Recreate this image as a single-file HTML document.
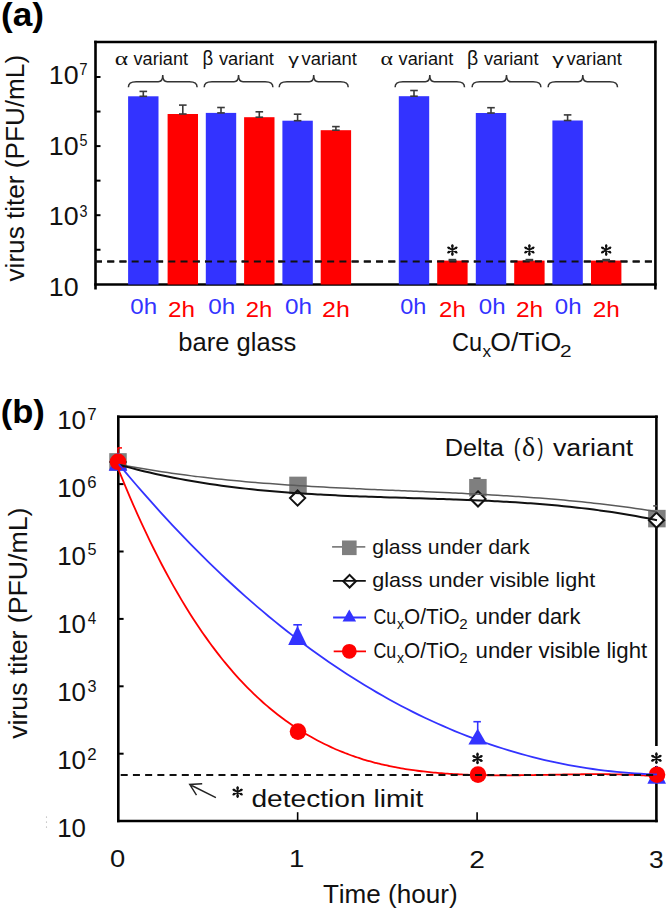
<!DOCTYPE html>
<html><head><meta charset="utf-8"><style>
html,body{margin:0;padding:0;background:#fff;width:668px;height:911px;overflow:hidden}
svg{display:block}
text{font-family:"Liberation Sans",sans-serif;font-kerning:none}
</style></head><body>
<svg width="668" height="911" viewBox="0 0 668 911">
<rect width="668" height="911" fill="#fff"/>
<text x="0.95" y="25.70" font-size="33.7" fill="#000" textLength="43.01" lengthAdjust="spacingAndGlyphs" font-weight="bold" >(a)</text>
<line x1="94.2" y1="42" x2="656.7" y2="42" stroke="#000" stroke-width="2.6" />
<line x1="95.5" y1="40.7" x2="95.5" y2="289.5" stroke="#000" stroke-width="2.6" />
<line x1="94.2" y1="284.5" x2="656.7" y2="284.5" stroke="#000" stroke-width="2.6" />
<line x1="655.4" y1="40.7" x2="655.4" y2="289.5" stroke="#000" stroke-width="2.6" />
<line x1="95.5" y1="77.0" x2="100.5" y2="77.0" stroke="#000" stroke-width="2" />
<line x1="95.5" y1="111.55" x2="100.5" y2="111.55" stroke="#000" stroke-width="2" />
<line x1="95.5" y1="146.1" x2="100.5" y2="146.1" stroke="#000" stroke-width="2" />
<line x1="95.5" y1="180.64999999999998" x2="100.5" y2="180.64999999999998" stroke="#000" stroke-width="2" />
<line x1="95.5" y1="215.2" x2="100.5" y2="215.2" stroke="#000" stroke-width="2" />
<line x1="95.5" y1="249.75" x2="100.5" y2="249.75" stroke="#000" stroke-width="2" />
<text x="48.76" y="83.80" font-size="26.5" fill="#111" textLength="29.79" lengthAdjust="spacingAndGlyphs" >10</text>
<text x="79.23" y="74.90" font-size="16.5" fill="#111" textLength="8.32" lengthAdjust="spacingAndGlyphs" >7</text>
<text x="48.76" y="154.70" font-size="26.5" fill="#111" textLength="29.79" lengthAdjust="spacingAndGlyphs" >10</text>
<text x="79.43" y="146.00" font-size="16.5" fill="#111" textLength="7.98" lengthAdjust="spacingAndGlyphs" >5</text>
<text x="48.76" y="225.40" font-size="26.5" fill="#111" textLength="29.79" lengthAdjust="spacingAndGlyphs" >10</text>
<text x="79.45" y="216.50" font-size="16.5" fill="#111" textLength="7.98" lengthAdjust="spacingAndGlyphs" >3</text>
<text x="48.76" y="296.20" font-size="26.5" fill="#111" textLength="29.79" lengthAdjust="spacingAndGlyphs" >10</text>
<text transform="rotate(-90)" x="-281.49" y="23.60" font-size="25.2" fill="#111" textLength="226.61" lengthAdjust="spacingAndGlyphs">virus titer (PFU/mL)</text>
<line x1="95" y1="261.4" x2="654" y2="261.4" stroke="#111" stroke-width="2" stroke-dasharray="7 5.22"/>
<rect x="128.10" y="96.3" width="30.4" height="188.20" fill="#3333ff"/>
<rect x="167.60" y="114.0" width="30.4" height="170.50" fill="#ff0000"/>
<rect x="205.80" y="112.9" width="30.4" height="171.60" fill="#3333ff"/>
<rect x="244.10" y="117.2" width="30.4" height="167.30" fill="#ff0000"/>
<rect x="282.40" y="120.7" width="30.4" height="163.80" fill="#3333ff"/>
<rect x="320.70" y="130.2" width="30.4" height="154.30" fill="#ff0000"/>
<rect x="398.80" y="96.2" width="30.4" height="188.30" fill="#3333ff"/>
<rect x="437.20" y="260.6" width="30.4" height="23.90" fill="#ff0000"/>
<rect x="475.80" y="113.0" width="30.4" height="171.50" fill="#3333ff"/>
<rect x="514.20" y="260.6" width="30.4" height="23.90" fill="#ff0000"/>
<rect x="552.40" y="120.5" width="30.4" height="164.00" fill="#3333ff"/>
<rect x="591.00" y="260.6" width="30.4" height="23.90" fill="#ff0000"/>
<line x1="95" y1="261.4" x2="654" y2="261.4" stroke="#111" stroke-width="2" stroke-dasharray="7 5.22"/>
<line x1="143.30" y1="91.4" x2="143.30" y2="96.3" stroke="#3a3a3a" stroke-width="1.6" />
<line x1="139.50" y1="91.4" x2="147.10" y2="91.4" stroke="#3a3a3a" stroke-width="1.6" />
<line x1="139.50" y1="96.3" x2="147.10" y2="96.3" stroke="#3a3a3a" stroke-width="1.6" />
<line x1="182.80" y1="105.1" x2="182.80" y2="114.0" stroke="#3a3a3a" stroke-width="1.6" />
<line x1="179.00" y1="105.1" x2="186.60" y2="105.1" stroke="#3a3a3a" stroke-width="1.6" />
<line x1="179.00" y1="114.0" x2="186.60" y2="114.0" stroke="#3a3a3a" stroke-width="1.6" />
<line x1="221.00" y1="107.5" x2="221.00" y2="112.9" stroke="#3a3a3a" stroke-width="1.6" />
<line x1="217.20" y1="107.5" x2="224.80" y2="107.5" stroke="#3a3a3a" stroke-width="1.6" />
<line x1="217.20" y1="112.9" x2="224.80" y2="112.9" stroke="#3a3a3a" stroke-width="1.6" />
<line x1="259.30" y1="111.8" x2="259.30" y2="117.2" stroke="#3a3a3a" stroke-width="1.6" />
<line x1="255.50" y1="111.8" x2="263.10" y2="111.8" stroke="#3a3a3a" stroke-width="1.6" />
<line x1="255.50" y1="117.2" x2="263.10" y2="117.2" stroke="#3a3a3a" stroke-width="1.6" />
<line x1="297.60" y1="114.2" x2="297.60" y2="120.7" stroke="#3a3a3a" stroke-width="1.6" />
<line x1="293.80" y1="114.2" x2="301.40" y2="114.2" stroke="#3a3a3a" stroke-width="1.6" />
<line x1="293.80" y1="120.7" x2="301.40" y2="120.7" stroke="#3a3a3a" stroke-width="1.6" />
<line x1="335.90" y1="126.6" x2="335.90" y2="130.2" stroke="#3a3a3a" stroke-width="1.6" />
<line x1="332.10" y1="126.6" x2="339.70" y2="126.6" stroke="#3a3a3a" stroke-width="1.6" />
<line x1="332.10" y1="130.2" x2="339.70" y2="130.2" stroke="#3a3a3a" stroke-width="1.6" />
<line x1="414.00" y1="90.5" x2="414.00" y2="96.2" stroke="#3a3a3a" stroke-width="1.6" />
<line x1="410.20" y1="90.5" x2="417.80" y2="90.5" stroke="#3a3a3a" stroke-width="1.6" />
<line x1="410.20" y1="96.2" x2="417.80" y2="96.2" stroke="#3a3a3a" stroke-width="1.6" />
<line x1="452.40" y1="259.6" x2="452.40" y2="260.6" stroke="#3a3a3a" stroke-width="1.6" />
<line x1="448.60" y1="259.6" x2="456.20" y2="259.6" stroke="#3a3a3a" stroke-width="1.6" />
<line x1="448.60" y1="260.6" x2="456.20" y2="260.6" stroke="#3a3a3a" stroke-width="1.6" />
<line x1="491.00" y1="107.7" x2="491.00" y2="113.0" stroke="#3a3a3a" stroke-width="1.6" />
<line x1="487.20" y1="107.7" x2="494.80" y2="107.7" stroke="#3a3a3a" stroke-width="1.6" />
<line x1="487.20" y1="113.0" x2="494.80" y2="113.0" stroke="#3a3a3a" stroke-width="1.6" />
<line x1="529.40" y1="259.6" x2="529.40" y2="260.6" stroke="#3a3a3a" stroke-width="1.6" />
<line x1="525.60" y1="259.6" x2="533.20" y2="259.6" stroke="#3a3a3a" stroke-width="1.6" />
<line x1="525.60" y1="260.6" x2="533.20" y2="260.6" stroke="#3a3a3a" stroke-width="1.6" />
<line x1="567.60" y1="114.9" x2="567.60" y2="120.5" stroke="#3a3a3a" stroke-width="1.6" />
<line x1="563.80" y1="114.9" x2="571.40" y2="114.9" stroke="#3a3a3a" stroke-width="1.6" />
<line x1="563.80" y1="120.5" x2="571.40" y2="120.5" stroke="#3a3a3a" stroke-width="1.6" />
<line x1="606.20" y1="259.6" x2="606.20" y2="260.6" stroke="#3a3a3a" stroke-width="1.6" />
<line x1="602.40" y1="259.6" x2="610.00" y2="259.6" stroke="#3a3a3a" stroke-width="1.6" />
<line x1="602.40" y1="260.6" x2="610.00" y2="260.6" stroke="#3a3a3a" stroke-width="1.6" />
<path d="M128.40,87.2 C128.40,83.3 130.40,81.8 136.20,81.8 L158.25,81.8 C161.25,81.8 162.75,79.8 162.75,75.1 C162.75,79.8 164.25,81.8 167.25,81.8 L189.30,81.8 C195.10,81.8 197.10,83.3 197.10,87.2" fill="none" stroke="#333" stroke-width="1.5"/>
<path d="M204.20,87.2 C204.20,83.3 206.20,81.8 212.00,81.8 L234.05,81.8 C237.05,81.8 238.55,79.8 238.55,75.1 C238.55,79.8 240.05,81.8 243.05,81.8 L265.10,81.8 C270.90,81.8 272.90,83.3 272.90,87.2" fill="none" stroke="#333" stroke-width="1.5"/>
<path d="M279.20,87.2 C279.20,83.3 281.20,81.8 287.00,81.8 L309.20,81.8 C312.20,81.8 313.70,79.8 313.70,75.1 C313.70,79.8 315.20,81.8 318.20,81.8 L340.40,81.8 C346.20,81.8 348.20,83.3 348.20,87.2" fill="none" stroke="#333" stroke-width="1.5"/>
<path d="M395.10,87.2 C395.10,83.3 397.10,81.8 402.90,81.8 L425.30,81.8 C428.30,81.8 429.80,79.8 429.80,75.1 C429.80,79.8 431.30,81.8 434.30,81.8 L456.70,81.8 C462.50,81.8 464.50,83.3 464.50,87.2" fill="none" stroke="#333" stroke-width="1.5"/>
<path d="M472.10,87.2 C472.10,83.3 474.10,81.8 479.90,81.8 L502.00,81.8 C505.00,81.8 506.50,79.8 506.50,75.1 C506.50,79.8 508.00,81.8 511.00,81.8 L533.10,81.8 C538.90,81.8 540.90,83.3 540.90,87.2" fill="none" stroke="#333" stroke-width="1.5"/>
<path d="M548.10,87.2 C548.10,83.3 550.10,81.8 555.90,81.8 L578.30,81.8 C581.30,81.8 582.80,79.8 582.80,75.1 C582.80,79.8 584.30,81.8 587.30,81.8 L609.70,81.8 C615.50,81.8 617.50,83.3 617.50,87.2" fill="none" stroke="#333" stroke-width="1.5"/>
<text x="114.73" y="64.50" font-size="19.5" fill="#111" textLength="13.34" lengthAdjust="spacingAndGlyphs" style="font-family:Liberation Serif" >α</text>
<text x="133.54" y="64.60" font-size="18.3" fill="#111" textLength="54.50" lengthAdjust="spacingAndGlyphs" >variant</text>
<text x="202.51" y="64.50" font-size="19.5" fill="#111" textLength="10.73" lengthAdjust="spacingAndGlyphs" >β</text>
<text x="218.94" y="64.60" font-size="18.3" fill="#111" textLength="55.00" lengthAdjust="spacingAndGlyphs" >variant</text>
<text x="288.33" y="64.50" font-size="16.9" fill="#111" textLength="10.65" lengthAdjust="spacingAndGlyphs" >γ</text>
<text x="301.54" y="64.60" font-size="18.3" fill="#111" textLength="55.40" lengthAdjust="spacingAndGlyphs" >variant</text>
<text x="380.60" y="64.50" font-size="19.5" fill="#111" textLength="12.44" lengthAdjust="spacingAndGlyphs" style="font-family:Liberation Serif" >α</text>
<text x="398.54" y="64.60" font-size="18.3" fill="#111" textLength="54.70" lengthAdjust="spacingAndGlyphs" >variant</text>
<text x="467.05" y="64.50" font-size="19.5" fill="#111" textLength="11.22" lengthAdjust="spacingAndGlyphs" >β</text>
<text x="483.94" y="64.60" font-size="18.3" fill="#111" textLength="54.60" lengthAdjust="spacingAndGlyphs" >variant</text>
<text x="552.32" y="64.50" font-size="16.9" fill="#111" textLength="11.66" lengthAdjust="spacingAndGlyphs" >γ</text>
<text x="566.54" y="64.60" font-size="18.3" fill="#111" textLength="55.40" lengthAdjust="spacingAndGlyphs" >variant</text>
<path d="M452.40,254.90 L452.40,245.10 M448.16,252.45 L456.64,247.55 M448.16,247.55 L456.64,252.45 " stroke="#111" stroke-width="1.9" stroke-linecap="round" fill="none"/>
<circle cx="452.40" cy="246.00" r="1.25" fill="#111"/>
<circle cx="448.94" cy="248.00" r="1.25" fill="#111"/>
<circle cx="448.94" cy="252.00" r="1.25" fill="#111"/>
<circle cx="452.40" cy="254.00" r="1.25" fill="#111"/>
<circle cx="455.86" cy="252.00" r="1.25" fill="#111"/>
<circle cx="455.86" cy="248.00" r="1.25" fill="#111"/>
<path d="M529.40,254.90 L529.40,245.10 M525.16,252.45 L533.64,247.55 M525.16,247.55 L533.64,252.45 " stroke="#111" stroke-width="1.9" stroke-linecap="round" fill="none"/>
<circle cx="529.40" cy="246.00" r="1.25" fill="#111"/>
<circle cx="525.94" cy="248.00" r="1.25" fill="#111"/>
<circle cx="525.94" cy="252.00" r="1.25" fill="#111"/>
<circle cx="529.40" cy="254.00" r="1.25" fill="#111"/>
<circle cx="532.86" cy="252.00" r="1.25" fill="#111"/>
<circle cx="532.86" cy="248.00" r="1.25" fill="#111"/>
<path d="M606.20,254.90 L606.20,245.10 M601.96,252.45 L610.44,247.55 M601.96,247.55 L610.44,252.45 " stroke="#111" stroke-width="1.9" stroke-linecap="round" fill="none"/>
<circle cx="606.20" cy="246.00" r="1.25" fill="#111"/>
<circle cx="602.74" cy="248.00" r="1.25" fill="#111"/>
<circle cx="602.74" cy="252.00" r="1.25" fill="#111"/>
<circle cx="606.20" cy="254.00" r="1.25" fill="#111"/>
<circle cx="609.66" cy="252.00" r="1.25" fill="#111"/>
<circle cx="609.66" cy="248.00" r="1.25" fill="#111"/>
<text x="130.26" y="313.50" font-size="22" fill="#3333ff" textLength="26.81" lengthAdjust="spacingAndGlyphs" >0h</text>
<text x="168.08" y="316.90" font-size="22" fill="#ff0000" textLength="27.00" lengthAdjust="spacingAndGlyphs" >2h</text>
<text x="208.35" y="313.50" font-size="22" fill="#3333ff" textLength="27.03" lengthAdjust="spacingAndGlyphs" >0h</text>
<text x="245.80" y="316.90" font-size="22" fill="#ff0000" textLength="26.55" lengthAdjust="spacingAndGlyphs" >2h</text>
<text x="285.05" y="313.50" font-size="22" fill="#3333ff" textLength="27.03" lengthAdjust="spacingAndGlyphs" >0h</text>
<text x="322.04" y="316.90" font-size="22" fill="#ff0000" textLength="27.78" lengthAdjust="spacingAndGlyphs" >2h</text>
<text x="400.28" y="313.50" font-size="22" fill="#3333ff" textLength="26.14" lengthAdjust="spacingAndGlyphs" >0h</text>
<text x="439.09" y="316.90" font-size="22" fill="#ff0000" textLength="26.66" lengthAdjust="spacingAndGlyphs" >2h</text>
<text x="478.86" y="313.50" font-size="22" fill="#3333ff" textLength="26.81" lengthAdjust="spacingAndGlyphs" >0h</text>
<text x="515.97" y="316.90" font-size="22" fill="#ff0000" textLength="27.22" lengthAdjust="spacingAndGlyphs" >2h</text>
<text x="554.86" y="313.50" font-size="22" fill="#3333ff" textLength="26.81" lengthAdjust="spacingAndGlyphs" >0h</text>
<text x="592.77" y="316.90" font-size="22" fill="#ff0000" textLength="27.11" lengthAdjust="spacingAndGlyphs" >2h</text>
<text x="178.35" y="350.90" font-size="25" fill="#111" textLength="117.87" lengthAdjust="spacingAndGlyphs" >bare glass</text>
<text x="452.01" y="351.20" font-size="26" fill="#111" textLength="30.06" lengthAdjust="spacingAndGlyphs" >Cu</text>
<text x="482.41" y="356.70" font-size="16" fill="#111" textLength="8.58" lengthAdjust="spacingAndGlyphs" >x</text>
<text x="490.24" y="351.20" font-size="26" fill="#111" textLength="70.83" lengthAdjust="spacingAndGlyphs" >O/TiO</text>
<text x="559.95" y="356.70" font-size="16" fill="#111" textLength="11.60" lengthAdjust="spacingAndGlyphs" >2</text>
<text x="0.68" y="423.30" font-size="33.7" fill="#000" textLength="44.14" lengthAdjust="spacingAndGlyphs" font-weight="bold" >(b)</text>
<line x1="117" y1="416.7" x2="657.8" y2="416.7" stroke="#000" stroke-width="2.6" />
<line x1="118.3" y1="415.4" x2="118.3" y2="822.3" stroke="#000" stroke-width="2.6" />
<line x1="117" y1="821" x2="657.8" y2="821" stroke="#000" stroke-width="2.6" />
<line x1="656.4" y1="415.4" x2="656.4" y2="822.3" stroke="#000" stroke-width="2.6" />
<line x1="118.3" y1="484.10" x2="123.6" y2="484.10" stroke="#000" stroke-width="2" />
<line x1="118.3" y1="551.50" x2="123.6" y2="551.50" stroke="#000" stroke-width="2" />
<line x1="118.3" y1="618.90" x2="123.6" y2="618.90" stroke="#000" stroke-width="2" />
<line x1="118.3" y1="686.30" x2="123.6" y2="686.30" stroke="#000" stroke-width="2" />
<line x1="118.3" y1="753.70" x2="123.6" y2="753.70" stroke="#000" stroke-width="2" />
<line x1="297.65" y1="812.2" x2="297.65" y2="821" stroke="#000" stroke-width="1.6" />
<line x1="477.10" y1="812.2" x2="477.10" y2="821" stroke="#000" stroke-width="1.6" />
<text x="57.23" y="429.10" font-size="26" fill="#111" textLength="28.78" lengthAdjust="spacingAndGlyphs" >10</text>
<text x="87.33" y="420.30" font-size="17" fill="#111" textLength="9.42" lengthAdjust="spacingAndGlyphs" >7</text>
<text x="57.23" y="497.10" font-size="26" fill="#111" textLength="28.78" lengthAdjust="spacingAndGlyphs" >10</text>
<text x="87.35" y="487.80" font-size="17" fill="#111" textLength="9.28" lengthAdjust="spacingAndGlyphs" >6</text>
<text x="57.23" y="565.00" font-size="26" fill="#111" textLength="28.78" lengthAdjust="spacingAndGlyphs" >10</text>
<text x="87.55" y="555.40" font-size="17" fill="#111" textLength="9.03" lengthAdjust="spacingAndGlyphs" >5</text>
<text x="57.23" y="632.70" font-size="26" fill="#111" textLength="28.78" lengthAdjust="spacingAndGlyphs" >10</text>
<text x="87.85" y="623.50" font-size="17" fill="#111" textLength="8.50" lengthAdjust="spacingAndGlyphs" >4</text>
<text x="57.23" y="701.00" font-size="26" fill="#111" textLength="28.78" lengthAdjust="spacingAndGlyphs" >10</text>
<text x="87.58" y="692.30" font-size="17" fill="#111" textLength="9.03" lengthAdjust="spacingAndGlyphs" >3</text>
<text x="57.23" y="768.90" font-size="26" fill="#111" textLength="28.78" lengthAdjust="spacingAndGlyphs" >10</text>
<text x="87.35" y="760.00" font-size="17" fill="#111" textLength="9.40" lengthAdjust="spacingAndGlyphs" >2</text>
<text x="57.23" y="836.60" font-size="26" fill="#111" textLength="28.78" lengthAdjust="spacingAndGlyphs" >10</text>
<text transform="rotate(-90)" x="-738.89" y="26.60" font-size="26.5" fill="#111" textLength="231.35" lengthAdjust="spacingAndGlyphs">virus titer (PFU/mL)</text>
<text x="109.93" y="867.20" font-size="24.5" fill="#111" textLength="15.24" lengthAdjust="spacingAndGlyphs" >0</text>
<text x="289.10" y="867.40" font-size="24.5" fill="#111" textLength="15.35" lengthAdjust="spacingAndGlyphs" >1</text>
<text x="469.29" y="868.30" font-size="24.5" fill="#111" textLength="15.63" lengthAdjust="spacingAndGlyphs" >2</text>
<text x="649.00" y="868.30" font-size="24.5" fill="#111" textLength="14.66" lengthAdjust="spacingAndGlyphs" >3</text>
<text x="322.91" y="903.10" font-size="26" fill="#111" textLength="134.70" lengthAdjust="spacingAndGlyphs" >Time (hour)</text>
<text x="444.72" y="456.00" font-size="24.7" fill="#111" textLength="59.18" lengthAdjust="spacingAndGlyphs" >Delta</text>
<text x="513.86" y="456.00" font-size="24.7" fill="#111" textLength="6.66" lengthAdjust="spacingAndGlyphs" >(</text>
<text x="521.96" y="456.00" font-size="27" fill="#111" textLength="13.09" lengthAdjust="spacingAndGlyphs" style="font-family:Liberation Serif" >δ</text>
<text x="537.60" y="456.00" font-size="24.7" fill="#111" textLength="5.90" lengthAdjust="spacingAndGlyphs" >)</text>
<text x="552.91" y="456.00" font-size="24.7" fill="#111" textLength="80.29" lengthAdjust="spacingAndGlyphs" >variant</text>
<rect x="109.25" y="453.15" width="17.5" height="17.5" fill="#7f7f7f"/>
<path d="M118,454.4 L125.6,462 L118,469.6 L110.4,462 Z" fill="#fff" stroke="#111" stroke-width="2"/>
<path d="M118,452 L127.3,470.8 L108.7,470.8 Z" fill="#3333ff"/>
<circle cx="118" cy="461.8" r="8.3" fill="#ff0000"/>
<line x1="117.5" y1="447.9" x2="122" y2="447.9" stroke="#ff0000" stroke-width="1.5" />
<line x1="118" y1="447.9" x2="118" y2="453" stroke="#ff0000" stroke-width="1.5" />
<rect x="289.25" y="476.65" width="17.5" height="17.5" fill="#7f7f7f"/>
<path d="M297.6,490.5 L305.20000000000005,498.1 L297.6,505.70000000000005 L290.0,498.1 Z" fill="#fff" stroke="#111" stroke-width="2"/>
<line x1="297.6" y1="624.8" x2="297.6" y2="630" stroke="#3333ff" stroke-width="1.6" />
<line x1="293.3" y1="624.8" x2="301.9" y2="624.8" stroke="#3333ff" stroke-width="1.6" />
<path d="M297.5,625.7 L306.8,644.9 L288.2,644.9 Z" fill="#3333ff"/>
<circle cx="298" cy="731.6" r="8.3" fill="#ff0000"/>
<line x1="473.3" y1="478.2" x2="480.7" y2="478.2" stroke="#555" stroke-width="1.6" />
<line x1="477" y1="478.2" x2="477" y2="482" stroke="#555" stroke-width="1.6" />
<rect x="469.15" y="478.95" width="17.5" height="17.5" fill="#7f7f7f"/>
<path d="M478,491.29999999999995 L485.6,498.9 L478,506.5 L470.4,498.9 Z" fill="#fff" stroke="#111" stroke-width="2"/>
<line x1="477.7" y1="721.7" x2="477.7" y2="730" stroke="#3333ff" stroke-width="1.6" />
<line x1="473.4" y1="721.7" x2="480.9" y2="721.7" stroke="#3333ff" stroke-width="1.6" />
<path d="M477.7,728.4 L487.0,744.6 L468.4,744.6 Z" fill="#3333ff"/>
<circle cx="478" cy="774.6" r="8.3" fill="#ff0000"/>
<line x1="653.2" y1="505.9" x2="657" y2="505.9" stroke="#555" stroke-width="1.6" />
<rect x="648.15" y="509.85" width="17.5" height="17.5" fill="#7f7f7f"/>
<path d="M656.5,512.6 L664.1,520.2 L656.5,527.8000000000001 L648.9,520.2 Z" fill="#fff" stroke="#111" stroke-width="2"/>
<rect x="652" y="746" width="10" height="20" fill="#fff"/>
<path d="M656.7,765.2 L666.0,783.7 L647.4000000000001,783.7 Z" fill="#3333ff"/>
<circle cx="657" cy="774.7" r="8.3" fill="#ff0000"/>
<path d="M119.70,464.49 C120.70,464.68 123.70,465.26 125.70,465.63 C127.70,466.00 129.70,466.37 131.70,466.73 C133.70,467.10 135.70,467.45 137.70,467.80 C139.70,468.15 141.70,468.49 143.70,468.83 C145.70,469.17 147.70,469.50 149.70,469.83 C151.70,470.15 153.70,470.47 155.70,470.79 C157.70,471.10 159.70,471.41 161.70,471.72 C163.70,472.02 165.70,472.32 167.70,472.61 C169.70,472.91 171.70,473.19 173.70,473.48 C175.70,473.76 177.70,474.04 179.70,474.31 C181.70,474.58 183.70,474.85 185.70,475.11 C187.70,475.37 189.70,475.63 191.70,475.88 C193.70,476.14 195.70,476.38 197.70,476.63 C199.70,476.87 201.70,477.11 203.70,477.34 C205.70,477.58 207.70,477.81 209.70,478.03 C211.70,478.26 213.70,478.48 215.70,478.70 C217.70,478.91 219.70,479.13 221.70,479.33 C223.70,479.54 225.70,479.75 227.70,479.95 C229.70,480.15 231.70,480.34 233.70,480.54 C235.70,480.73 237.70,480.92 239.70,481.10 C241.70,481.29 243.70,481.47 245.70,481.65 C247.70,481.82 249.70,482.00 251.70,482.17 C253.70,482.34 255.70,482.51 257.70,482.67 C259.70,482.84 261.70,483.00 263.70,483.15 C265.70,483.31 267.70,483.47 269.70,483.62 C271.70,483.77 273.70,483.92 275.70,484.06 C277.70,484.21 279.70,484.35 281.70,484.49 C283.70,484.63 285.70,484.77 287.70,484.90 C289.70,485.04 291.70,485.17 293.70,485.30 C295.70,485.43 297.70,485.56 299.70,485.68 C301.70,485.81 303.70,485.93 305.70,486.05 C307.70,486.17 309.70,486.29 311.70,486.40 C313.70,486.52 315.70,486.63 317.70,486.74 C319.70,486.86 321.70,486.97 323.70,487.07 C325.70,487.18 327.70,487.29 329.70,487.39 C331.70,487.50 333.70,487.60 335.70,487.70 C337.70,487.81 339.70,487.91 341.70,488.00 C343.70,488.10 345.70,488.20 347.70,488.30 C349.70,488.39 351.70,488.49 353.70,488.58 C355.70,488.67 357.70,488.77 359.70,488.86 C361.70,488.95 363.70,489.04 365.70,489.13 C367.70,489.22 369.70,489.31 371.70,489.40 C373.70,489.49 375.70,489.57 377.70,489.66 C379.70,489.75 381.70,489.83 383.70,489.92 C385.70,490.00 387.70,490.09 389.70,490.18 C391.70,490.26 393.70,490.35 395.70,490.43 C397.70,490.51 399.70,490.60 401.70,490.68 C403.70,490.77 405.70,490.85 407.70,490.94 C409.70,491.02 411.70,491.11 413.70,491.19 C415.70,491.28 417.70,491.36 419.70,491.45 C421.70,491.53 423.70,491.62 425.70,491.70 C427.70,491.79 429.70,491.88 431.70,491.97 C433.70,492.05 435.70,492.14 437.70,492.23 C439.70,492.32 441.70,492.41 443.70,492.50 C445.70,492.59 447.70,492.68 449.70,492.77 C451.70,492.87 453.70,492.96 455.70,493.06 C457.70,493.15 459.70,493.25 461.70,493.34 C463.70,493.44 465.70,493.54 467.70,493.64 C469.70,493.74 471.70,493.84 473.70,493.94 C475.70,494.05 477.70,494.15 479.70,494.26 C481.70,494.37 483.70,494.47 485.70,494.58 C487.70,494.69 489.70,494.81 491.70,494.92 C493.70,495.03 495.70,495.15 497.70,495.27 C499.70,495.39 501.70,495.51 503.70,495.63 C505.70,495.75 507.70,495.88 509.70,496.00 C511.70,496.13 513.70,496.26 515.70,496.39 C517.70,496.53 519.70,496.66 521.70,496.80 C523.70,496.93 525.70,497.07 527.70,497.22 C529.70,497.36 531.70,497.51 533.70,497.65 C535.70,497.80 537.70,497.95 539.70,498.11 C541.70,498.26 543.70,498.42 545.70,498.58 C547.70,498.74 549.70,498.91 551.70,499.08 C553.70,499.24 555.70,499.41 557.70,499.59 C559.70,499.76 561.70,499.94 563.70,500.12 C565.70,500.30 567.70,500.49 569.70,500.68 C571.70,500.87 573.70,501.06 575.70,501.26 C577.70,501.45 579.70,501.65 581.70,501.86 C583.70,502.06 585.70,502.27 587.70,502.48 C589.70,502.70 591.70,502.91 593.70,503.13 C595.70,503.35 597.70,503.58 599.70,503.81 C601.70,504.04 603.70,504.27 605.70,504.51 C607.70,504.75 609.70,504.99 611.70,505.24 C613.70,505.49 615.70,505.74 617.70,506.00 C619.70,506.26 621.70,506.52 623.70,506.79 C625.70,507.06 627.70,507.33 629.70,507.61 C631.70,507.89 633.70,508.17 635.70,508.46 C637.70,508.74 639.70,509.04 641.70,509.34 C643.70,509.63 645.70,509.94 647.70,510.25 C649.70,510.56 652.15,510.95 653.70,511.19 C655.25,511.44 656.45,511.64 657.00,511.73" fill="none" stroke="#5a5a5a" stroke-width="1.5"/>
<path d="M119.70,464.89 C120.70,465.17 123.70,466.01 125.70,466.55 C127.70,467.09 129.70,467.63 131.70,468.15 C133.70,468.67 135.70,469.18 137.70,469.69 C139.70,470.19 141.70,470.68 143.70,471.17 C145.70,471.65 147.70,472.12 149.70,472.59 C151.70,473.05 153.70,473.51 155.70,473.96 C157.70,474.40 159.70,474.84 161.70,475.27 C163.70,475.70 165.70,476.12 167.70,476.53 C169.70,476.94 171.70,477.34 173.70,477.73 C175.70,478.13 177.70,478.51 179.70,478.89 C181.70,479.27 183.70,479.64 185.70,480.00 C187.70,480.36 189.70,480.71 191.70,481.06 C193.70,481.40 195.70,481.74 197.70,482.07 C199.70,482.40 201.70,482.72 203.70,483.03 C205.70,483.35 207.70,483.66 209.70,483.96 C211.70,484.26 213.70,484.55 215.70,484.84 C217.70,485.12 219.70,485.40 221.70,485.67 C223.70,485.95 225.70,486.21 227.70,486.47 C229.70,486.73 231.70,486.98 233.70,487.23 C235.70,487.48 237.70,487.71 239.70,487.95 C241.70,488.18 243.70,488.41 245.70,488.63 C247.70,488.85 249.70,489.07 251.70,489.28 C253.70,489.49 255.70,489.70 257.70,489.90 C259.70,490.09 261.70,490.29 263.70,490.48 C265.70,490.67 267.70,490.85 269.70,491.03 C271.70,491.21 273.70,491.38 275.70,491.55 C277.70,491.72 279.70,491.88 281.70,492.04 C283.70,492.20 285.70,492.35 287.70,492.50 C289.70,492.65 291.70,492.80 293.70,492.94 C295.70,493.08 297.70,493.22 299.70,493.35 C301.70,493.48 303.70,493.61 305.70,493.74 C307.70,493.87 309.70,493.99 311.70,494.11 C313.70,494.22 315.70,494.34 317.70,494.45 C319.70,494.56 321.70,494.67 323.70,494.78 C325.70,494.88 327.70,494.98 329.70,495.08 C331.70,495.18 333.70,495.28 335.70,495.37 C337.70,495.46 339.70,495.56 341.70,495.64 C343.70,495.73 345.70,495.82 347.70,495.90 C349.70,495.99 351.70,496.07 353.70,496.15 C355.70,496.23 357.70,496.30 359.70,496.38 C361.70,496.45 363.70,496.53 365.70,496.60 C367.70,496.67 369.70,496.74 371.70,496.81 C373.70,496.88 375.70,496.95 377.70,497.02 C379.70,497.08 381.70,497.15 383.70,497.21 C385.70,497.28 387.70,497.34 389.70,497.40 C391.70,497.47 393.70,497.53 395.70,497.59 C397.70,497.65 399.70,497.71 401.70,497.77 C403.70,497.83 405.70,497.89 407.70,497.95 C409.70,498.01 411.70,498.07 413.70,498.13 C415.70,498.19 417.70,498.26 419.70,498.32 C421.70,498.38 423.70,498.44 425.70,498.50 C427.70,498.56 429.70,498.62 431.70,498.68 C433.70,498.75 435.70,498.81 437.70,498.88 C439.70,498.94 441.70,499.01 443.70,499.07 C445.70,499.14 447.70,499.21 449.70,499.28 C451.70,499.34 453.70,499.42 455.70,499.49 C457.70,499.56 459.70,499.63 461.70,499.71 C463.70,499.78 465.70,499.86 467.70,499.94 C469.70,500.02 471.70,500.10 473.70,500.19 C475.70,500.27 477.70,500.35 479.70,500.44 C481.70,500.53 483.70,500.62 485.70,500.72 C487.70,500.81 489.70,500.91 491.70,501.00 C493.70,501.10 495.70,501.21 497.70,501.31 C499.70,501.42 501.70,501.52 503.70,501.63 C505.70,501.75 507.70,501.86 509.70,501.98 C511.70,502.10 513.70,502.22 515.70,502.34 C517.70,502.47 519.70,502.60 521.70,502.73 C523.70,502.87 525.70,503.00 527.70,503.14 C529.70,503.29 531.70,503.43 533.70,503.58 C535.70,503.73 537.70,503.88 539.70,504.04 C541.70,504.20 543.70,504.37 545.70,504.53 C547.70,504.70 549.70,504.88 551.70,505.05 C553.70,505.23 555.70,505.41 557.70,505.60 C559.70,505.79 561.70,505.98 563.70,506.18 C565.70,506.38 567.70,506.59 569.70,506.80 C571.70,507.01 573.70,507.22 575.70,507.44 C577.70,507.67 579.70,507.89 581.70,508.13 C583.70,508.36 585.70,508.60 587.70,508.85 C589.70,509.09 591.70,509.35 593.70,509.60 C595.70,509.86 597.70,510.13 599.70,510.40 C601.70,510.67 603.70,510.95 605.70,511.24 C607.70,511.52 609.70,511.81 611.70,512.11 C613.70,512.41 615.70,512.72 617.70,513.04 C619.70,513.35 621.70,513.67 623.70,514.00 C625.70,514.33 627.70,514.67 629.70,515.01 C631.70,515.36 633.70,515.71 635.70,516.07 C637.70,516.43 639.70,516.80 641.70,517.18 C643.70,517.55 645.70,517.94 647.70,518.33 C649.70,518.72 652.15,519.22 653.70,519.54 C655.25,519.85 656.45,520.11 657.00,520.22" fill="none" stroke="#111" stroke-width="2"/>
<path d="M117.50,467.03 C118.17,468.68 120.17,473.67 121.50,476.94 C122.83,480.20 124.17,483.43 125.50,486.62 C126.83,489.80 128.17,492.96 129.50,496.07 C130.83,499.19 132.17,502.26 133.50,505.30 C134.83,508.34 136.17,511.35 137.50,514.32 C138.83,517.29 140.17,520.22 141.50,523.12 C142.83,526.01 144.17,528.87 145.50,531.70 C146.83,534.53 148.17,537.32 149.50,540.08 C150.83,542.83 152.17,545.55 153.50,548.24 C154.83,550.93 156.17,553.59 157.50,556.21 C158.83,558.83 160.17,561.41 161.50,563.97 C162.83,566.52 164.17,569.04 165.50,571.53 C166.83,574.02 168.17,576.48 169.50,578.90 C170.83,581.32 172.17,583.71 173.50,586.07 C174.83,588.43 176.17,590.76 177.50,593.06 C178.83,595.36 180.17,597.62 181.50,599.86 C182.83,602.09 184.17,604.30 185.50,606.47 C186.83,608.65 188.17,610.79 189.50,612.90 C190.83,615.02 192.17,617.10 193.50,619.16 C194.83,621.21 196.17,623.24 197.50,625.24 C198.83,627.24 200.17,629.20 201.50,631.15 C202.83,633.09 204.17,635.00 205.50,636.88 C206.83,638.77 208.17,640.62 209.50,642.45 C210.83,644.28 212.17,646.09 213.50,647.86 C214.83,649.64 216.17,651.39 217.50,653.11 C218.83,654.83 220.17,656.53 221.50,658.20 C222.83,659.87 224.17,661.51 225.50,663.13 C226.83,664.75 228.17,666.34 229.50,667.91 C230.83,669.48 232.17,671.02 233.50,672.54 C234.83,674.06 236.17,675.56 237.50,677.03 C238.83,678.50 240.17,679.95 241.50,681.37 C242.83,682.80 244.17,684.20 245.50,685.57 C246.83,686.95 248.17,688.31 249.50,689.64 C250.83,690.97 252.17,692.28 253.50,693.57 C254.83,694.86 256.17,696.12 257.50,697.37 C258.83,698.61 260.17,699.83 261.50,701.04 C262.83,702.24 264.17,703.42 265.50,704.58 C266.83,705.74 268.17,706.88 269.50,708.00 C270.83,709.12 272.17,710.22 273.50,711.30 C274.83,712.38 276.17,713.44 277.50,714.48 C278.83,715.52 280.17,716.55 281.50,717.55 C282.83,718.56 284.17,719.54 285.50,720.51 C286.83,721.48 288.17,722.43 289.50,723.36 C290.83,724.29 292.17,725.20 293.50,726.10 C294.83,727.00 296.17,727.88 297.50,728.74 C298.83,729.60 300.17,730.45 301.50,731.28 C302.83,732.11 304.17,732.93 305.50,733.72 C306.83,734.52 308.17,735.30 309.50,736.07 C310.83,736.84 312.17,737.59 313.50,738.32 C314.83,739.06 316.17,739.78 317.50,740.49 C318.83,741.19 320.17,741.88 321.50,742.56 C322.83,743.24 324.17,743.90 325.50,744.54 C326.83,745.19 328.17,745.82 329.50,746.44 C330.83,747.06 332.17,747.67 333.50,748.26 C334.83,748.85 336.17,749.43 337.50,749.99 C338.83,750.56 340.17,751.11 341.50,751.65 C342.83,752.19 344.17,752.72 345.50,753.23 C346.83,753.74 348.17,754.24 349.50,754.73 C350.83,755.22 352.17,755.70 353.50,756.16 C354.83,756.63 356.17,757.08 357.50,757.52 C358.83,757.96 360.17,758.39 361.50,758.81 C362.83,759.23 364.17,759.64 365.50,760.03 C366.83,760.43 368.17,760.81 369.50,761.19 C370.83,761.57 372.17,761.93 373.50,762.28 C374.83,762.64 376.17,762.98 377.50,763.32 C378.83,763.65 380.17,763.98 381.50,764.29 C382.83,764.61 384.17,764.91 385.50,765.21 C386.83,765.51 388.17,765.79 389.50,766.07 C390.83,766.35 392.17,766.62 393.50,766.88 C394.83,767.14 396.17,767.40 397.50,767.64 C398.83,767.89 400.17,768.12 401.50,768.35 C402.83,768.58 404.17,768.80 405.50,769.02 C406.83,769.23 408.17,769.44 409.50,769.64 C410.83,769.84 412.17,770.03 413.50,770.21 C414.83,770.40 416.17,770.58 417.50,770.75 C418.83,770.92 420.17,771.09 421.50,771.25 C422.83,771.41 424.17,771.56 425.50,771.71 C426.83,771.85 428.17,772.00 429.50,772.13 C430.83,772.27 432.17,772.40 433.50,772.53 C434.83,772.65 436.17,772.77 437.50,772.89 C438.83,773.01 440.17,773.12 441.50,773.22 C442.83,773.33 444.17,773.43 445.50,773.53 C446.83,773.62 448.17,773.71 449.50,773.80 C450.83,773.89 452.17,773.97 453.50,774.05 C454.83,774.13 456.17,774.20 457.50,774.27 C458.83,774.34 460.17,774.41 461.50,774.47 C462.83,774.53 464.17,774.59 465.50,774.65 C466.83,774.70 468.17,774.75 469.50,774.80 C470.83,774.85 472.17,774.89 473.50,774.93 C474.83,774.97 476.17,775.01 477.50,775.04 C478.83,775.07 480.17,775.10 481.50,775.13 C482.83,775.16 484.17,775.18 485.50,775.20 C486.83,775.22 488.17,775.24 489.50,775.26 C490.83,775.27 492.17,775.28 493.50,775.30 C494.83,775.31 496.17,775.31 497.50,775.32 C498.83,775.32 500.17,775.33 501.50,775.33 C502.83,775.33 504.17,775.33 505.50,775.33 C506.83,775.32 508.17,775.32 509.50,775.31 C510.83,775.30 512.17,775.30 513.50,775.29 C514.83,775.28 516.17,775.26 517.50,775.25 C518.83,775.24 520.17,775.22 521.50,775.21 C522.83,775.19 524.17,775.17 525.50,775.16 C526.83,775.14 528.17,775.12 529.50,775.10 C530.83,775.08 532.17,775.06 533.50,775.04 C534.83,775.01 536.17,774.99 537.50,774.97 C538.83,774.95 540.17,774.92 541.50,774.90 C542.83,774.87 544.17,774.85 545.50,774.83 C546.83,774.80 548.17,774.78 549.50,774.75 C550.83,774.73 552.17,774.70 553.50,774.68 C554.83,774.65 556.17,774.63 557.50,774.61 C558.83,774.58 560.17,774.56 561.50,774.54 C562.83,774.51 564.17,774.49 565.50,774.47 C566.83,774.45 568.17,774.43 569.50,774.41 C570.83,774.39 572.17,774.37 573.50,774.35 C574.83,774.33 576.17,774.31 577.50,774.30 C578.83,774.28 580.17,774.27 581.50,774.26 C582.83,774.24 584.17,774.23 585.50,774.22 C586.83,774.21 588.17,774.20 589.50,774.20 C590.83,774.19 592.17,774.19 593.50,774.18 C594.83,774.18 596.17,774.18 597.50,774.18 C598.83,774.18 600.17,774.19 601.50,774.19 C602.83,774.20 604.17,774.21 605.50,774.22 C606.83,774.23 608.17,774.24 609.50,774.26 C610.83,774.28 612.17,774.29 613.50,774.32 C614.83,774.34 616.17,774.36 617.50,774.39 C618.83,774.42 620.17,774.45 621.50,774.48 C622.83,774.52 624.17,774.55 625.50,774.59 C626.83,774.63 628.17,774.68 629.50,774.73 C630.83,774.77 632.17,774.83 633.50,774.88 C634.83,774.94 636.17,774.99 637.50,775.06 C638.83,775.12 640.17,775.19 641.50,775.26 C642.83,775.33 644.17,775.40 645.50,775.48 C646.83,775.56 648.17,775.65 649.50,775.73 C650.83,775.82 652.25,775.92 653.50,776.01 C654.75,776.10 656.42,776.23 657.00,776.28" fill="none" stroke="#ff0000" stroke-width="1.8"/>
<path d="M118.80,464.18 C119.80,465.38 122.80,468.99 124.80,471.37 C126.80,473.76 128.80,476.12 130.80,478.48 C132.80,480.83 134.80,483.16 136.80,485.48 C138.80,487.80 140.80,490.11 142.80,492.40 C144.80,494.68 146.80,496.96 148.80,499.21 C150.80,501.47 152.80,503.71 154.80,505.94 C156.80,508.17 158.80,510.38 160.80,512.57 C162.80,514.77 164.80,516.95 166.80,519.11 C168.80,521.28 170.80,523.43 172.80,525.56 C174.80,527.69 176.80,529.81 178.80,531.91 C180.80,534.02 182.80,536.10 184.80,538.18 C186.80,540.25 188.80,542.31 190.80,544.35 C192.80,546.39 194.80,548.42 196.80,550.43 C198.80,552.44 200.80,554.44 202.80,556.42 C204.80,558.40 206.80,560.37 208.80,562.32 C210.80,564.27 212.80,566.21 214.80,568.13 C216.80,570.05 218.80,571.96 220.80,573.85 C222.80,575.74 224.80,577.62 226.80,579.48 C228.80,581.34 230.80,583.19 232.80,585.03 C234.80,586.86 236.80,588.68 238.80,590.48 C240.80,592.28 242.80,594.07 244.80,595.85 C246.80,597.62 248.80,599.38 250.80,601.12 C252.80,602.87 254.80,604.60 256.80,606.32 C258.80,608.03 260.80,609.73 262.80,611.42 C264.80,613.11 266.80,614.78 268.80,616.44 C270.80,618.10 272.80,619.74 274.80,621.37 C276.80,623.00 278.80,624.61 280.80,626.22 C282.80,627.82 284.80,629.40 286.80,630.98 C288.80,632.55 290.80,634.11 292.80,635.65 C294.80,637.19 296.80,638.72 298.80,640.24 C300.80,641.76 302.80,643.26 304.80,644.75 C306.80,646.23 308.80,647.71 310.80,649.17 C312.80,650.63 314.80,652.07 316.80,653.51 C318.80,654.94 320.80,656.36 322.80,657.76 C324.80,659.17 326.80,660.56 328.80,661.93 C330.80,663.31 332.80,664.67 334.80,666.02 C336.80,667.37 338.80,668.71 340.80,670.03 C342.80,671.35 344.80,672.66 346.80,673.96 C348.80,675.25 350.80,676.53 352.80,677.80 C354.80,679.07 356.80,680.32 358.80,681.56 C360.80,682.81 362.80,684.03 364.80,685.25 C366.80,686.46 368.80,687.66 370.80,688.85 C372.80,690.04 374.80,691.21 376.80,692.37 C378.80,693.53 380.80,694.68 382.80,695.81 C384.80,696.95 386.80,698.07 388.80,699.18 C390.80,700.28 392.80,701.38 394.80,702.46 C396.80,703.54 398.80,704.61 400.80,705.67 C402.80,706.72 404.80,707.76 406.80,708.79 C408.80,709.82 410.80,710.84 412.80,711.84 C414.80,712.85 416.80,713.84 418.80,714.82 C420.80,715.79 422.80,716.76 424.80,717.71 C426.80,718.66 428.80,719.60 430.80,720.53 C432.80,721.46 434.80,722.37 436.80,723.27 C438.80,724.17 440.80,725.06 442.80,725.94 C444.80,726.82 446.80,727.68 448.80,728.53 C450.80,729.38 452.80,730.22 454.80,731.05 C456.80,731.87 458.80,732.69 460.80,733.49 C462.80,734.29 464.80,735.08 466.80,735.85 C468.80,736.63 470.80,737.39 472.80,738.15 C474.80,738.90 476.80,739.64 478.80,740.36 C480.80,741.09 482.80,741.81 484.80,742.51 C486.80,743.21 488.80,743.90 490.80,744.58 C492.80,745.26 494.80,745.93 496.80,746.58 C498.80,747.24 500.80,747.88 502.80,748.51 C504.80,749.14 506.80,749.76 508.80,750.36 C510.80,750.97 512.80,751.57 514.80,752.15 C516.80,752.73 518.80,753.30 520.80,753.86 C522.80,754.42 524.80,754.97 526.80,755.50 C528.80,756.04 530.80,756.56 532.80,757.07 C534.80,757.59 536.80,758.09 538.80,758.58 C540.80,759.06 542.80,759.54 544.80,760.01 C546.80,760.47 548.80,760.93 550.80,761.37 C552.80,761.81 554.80,762.24 556.80,762.66 C558.80,763.08 560.80,763.49 562.80,763.89 C564.80,764.28 566.80,764.67 568.80,765.04 C570.80,765.42 572.80,765.78 574.80,766.13 C576.80,766.48 578.80,766.82 580.80,767.15 C582.80,767.48 584.80,767.80 586.80,768.11 C588.80,768.41 590.80,768.71 592.80,769.00 C594.80,769.28 596.80,769.55 598.80,769.82 C600.80,770.08 602.80,770.33 604.80,770.57 C606.80,770.81 608.80,771.04 610.80,771.26 C612.80,771.48 614.80,771.69 616.80,771.88 C618.80,772.08 620.80,772.27 622.80,772.44 C624.80,772.62 626.80,772.78 628.80,772.94 C630.80,773.09 632.80,773.23 634.80,773.37 C636.80,773.50 638.80,773.62 640.80,773.73 C642.80,773.84 644.80,773.95 646.80,774.04 C648.80,774.13 651.10,774.21 652.80,774.28 C654.50,774.34 656.30,774.38 657.00,774.41" fill="none" stroke="#3333ff" stroke-width="1.8"/>
<line x1="120.7" y1="774.9" x2="655" y2="774.9" stroke="#111" stroke-width="2" stroke-dasharray="7 5.22"/>
<path d="M477.50,763.30 L477.50,753.50 M473.26,760.85 L481.74,755.95 M473.26,755.95 L481.74,760.85 " stroke="#111" stroke-width="1.9" stroke-linecap="round" fill="none"/>
<circle cx="477.50" cy="754.40" r="1.25" fill="#111"/>
<circle cx="474.04" cy="756.40" r="1.25" fill="#111"/>
<circle cx="474.04" cy="760.40" r="1.25" fill="#111"/>
<circle cx="477.50" cy="762.40" r="1.25" fill="#111"/>
<circle cx="480.96" cy="760.40" r="1.25" fill="#111"/>
<circle cx="480.96" cy="756.40" r="1.25" fill="#111"/>
<path d="M656.40,763.10 L656.40,753.30 M652.16,760.65 L660.64,755.75 M652.16,755.75 L660.64,760.65 " stroke="#111" stroke-width="1.9" stroke-linecap="round" fill="none"/>
<circle cx="656.40" cy="754.20" r="1.25" fill="#111"/>
<circle cx="652.94" cy="756.20" r="1.25" fill="#111"/>
<circle cx="652.94" cy="760.20" r="1.25" fill="#111"/>
<circle cx="656.40" cy="762.20" r="1.25" fill="#111"/>
<circle cx="659.86" cy="760.20" r="1.25" fill="#111"/>
<circle cx="659.86" cy="756.20" r="1.25" fill="#111"/>
<line x1="332.1" y1="546.9" x2="365.3" y2="546.9" stroke="#7f7f7f" stroke-width="1.6" />
<rect x="342.00" y="540.50" width="14.6" height="14.6" fill="#7f7f7f"/>
<text x="372.31" y="553.50" font-size="20.8" fill="#111" textLength="157.26" lengthAdjust="spacingAndGlyphs" >glass under dark</text>
<path d="M349.6,574.9000000000001 L355.90000000000003,581.2 L349.6,587.5 L343.3,581.2 Z" fill="#fff" stroke="#111" stroke-width="2"/>
<line x1="332.9" y1="580.9" x2="365.8" y2="580.9" stroke="#111" stroke-width="1.8" />
<text x="372.29" y="587.20" font-size="20.8" fill="#111" textLength="222.86" lengthAdjust="spacingAndGlyphs" >glass under visible light</text>
<line x1="333.1" y1="617.5" x2="366" y2="617.5" stroke="#3333ff" stroke-width="1.8" />
<path d="M349.3,609.4 L356.1,621.6 L342.5,621.6 Z" fill="#3333ff"/>
<line x1="333.7" y1="651.3" x2="366" y2="651.3" stroke="#ff0000" stroke-width="1.8" />
<circle cx="349.3" cy="651.3" r="7.4" fill="#ff0000"/>
<text x="373.39" y="623.60" font-size="21.8" fill="#111" textLength="22.79" lengthAdjust="spacingAndGlyphs" >Cu</text>
<text x="397.04" y="628.80" font-size="14" fill="#111" textLength="7.01" lengthAdjust="spacingAndGlyphs" >x</text>
<text x="404.11" y="623.60" font-size="21.8" fill="#111" textLength="55.48" lengthAdjust="spacingAndGlyphs" >O/TiO</text>
<text x="459.34" y="628.80" font-size="14" fill="#111" textLength="8.42" lengthAdjust="spacingAndGlyphs" >2</text>
<text x="475.58" y="623.60" font-size="21.8" fill="#111" textLength="104.79" lengthAdjust="spacingAndGlyphs" >under dark</text>
<text x="373.39" y="657.60" font-size="21.8" fill="#111" textLength="22.79" lengthAdjust="spacingAndGlyphs" >Cu</text>
<text x="397.04" y="662.80" font-size="14" fill="#111" textLength="7.01" lengthAdjust="spacingAndGlyphs" >x</text>
<text x="404.11" y="657.60" font-size="21.8" fill="#111" textLength="55.48" lengthAdjust="spacingAndGlyphs" >O/TiO</text>
<text x="459.34" y="662.80" font-size="14" fill="#111" textLength="8.42" lengthAdjust="spacingAndGlyphs" >2</text>
<text x="475.56" y="657.60" font-size="21.8" fill="#111" textLength="171.61" lengthAdjust="spacingAndGlyphs" >under visible light</text>
<path d="M215.9,797.7 L189.7,784.5 M202.2,783.8 L189.7,784.5 L196.5,795.1" fill="none" stroke="#222" stroke-width="1.4"/>
<path d="M237.60,797.00 L237.60,787.20 M233.36,794.55 L241.84,789.65 M233.36,789.65 L241.84,794.55 " stroke="#111" stroke-width="1.9" stroke-linecap="round" fill="none"/>
<circle cx="237.60" cy="788.10" r="1.25" fill="#111"/>
<circle cx="234.14" cy="790.10" r="1.25" fill="#111"/>
<circle cx="234.14" cy="794.10" r="1.25" fill="#111"/>
<circle cx="237.60" cy="796.10" r="1.25" fill="#111"/>
<circle cx="241.06" cy="794.10" r="1.25" fill="#111"/>
<circle cx="241.06" cy="790.10" r="1.25" fill="#111"/>
<text x="251.42" y="806.50" font-size="24.8" fill="#111" textLength="171.99" lengthAdjust="spacingAndGlyphs" >detection limit</text>
<circle cx="46.5" cy="817" r="0.6" fill="#999"/><circle cx="46.5" cy="822" r="0.6" fill="#999"/><circle cx="46.5" cy="827" r="0.6" fill="#999"/>
</svg>
</body></html>
